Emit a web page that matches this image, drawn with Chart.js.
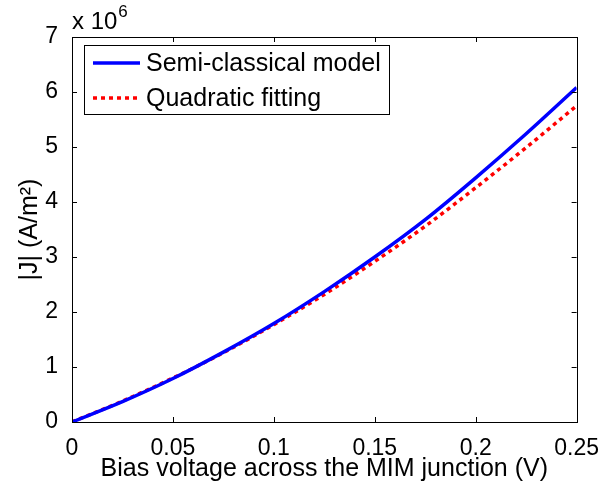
<!DOCTYPE html>
<html>
<head>
<meta charset="utf-8">
<script src="https://cdn.jsdelivr.net/npm/chart.js@4"></script>
<style>
  html, body { margin: 0; padding: 0; background: #fff; }
  #wrap { width: 604px; height: 487px; }
</style>
</head>
<body>
<div id="wrap"><canvas id="jvChart" width="604" height="487"></canvas></div>
<script>
// Bias voltage (V) and current density |J| (A/m^2)
const biasV = [0, 0.025, 0.05, 0.075, 0.1, 0.125, 0.15, 0.175, 0.2, 0.225, 0.25];
const jSemiClassical = [0, 0.37e6, 0.79e6, 1.27e6, 1.79e6, 2.37e6, 3.00e6, 3.68e6, 4.44e6, 5.24e6, 6.08e6];
const jQuadraticFit = [0, 0.38e6, 0.80e6, 1.26e6, 1.77e6, 2.32e6, 2.92e6, 3.56e6, 4.26e6, 4.99e6, 5.75e6];
const xTicks = [0, 0.05, 0.1, 0.15, 0.2, 0.25];
const yTicks = [0, 1e6, 2e6, 3e6, 4e6, 5e6, 6e6, 7e6];
const seriesNames = ['Semi-classical model', 'Quadratic fitting'];

const FONT = '"Liberation Sans", Arial, Helvetica, sans-serif';

function toPoints(ys) {
    return biasV.map((v, i) => ({ x: v, y: ys[i] }));
}

// matlab-style box with inward ticks on all four sides
const boxPlugin = {
    id: 'boxTicks',
    afterDatasetsDraw(chart) {
        const { ctx, chartArea: a, scales } = chart;
        ctx.save();
        ctx.strokeStyle = '#000';
        ctx.lineWidth = 1;
        ctx.beginPath();
        xTicks.forEach(t => {
            const px = Math.round(scales.x.getPixelForValue(t)) + 0.5;
            ctx.moveTo(px, a.bottom); ctx.lineTo(px, a.bottom - 5);
            ctx.moveTo(px, a.top); ctx.lineTo(px, a.top + 5);
        });
        yTicks.forEach(t => {
            const py = Math.round(scales.y.getPixelForValue(t)) + 0.5;
            ctx.moveTo(a.left, py); ctx.lineTo(a.left + 5, py);
            ctx.moveTo(a.right, py); ctx.lineTo(a.right - 5, py);
        });
        ctx.stroke();
        ctx.strokeRect(Math.round(a.left) + 0.5, Math.round(a.top) + 0.5,
            Math.round(a.right - a.left), Math.round(a.bottom - a.top));

        // exponent label above the y axis
        ctx.fillStyle = '#000';
        ctx.textBaseline = 'alphabetic';
        ctx.textAlign = 'left';
        ctx.font = '24px ' + FONT;
        ctx.fillText('x 10', a.left, a.top - 8);
        const w = ctx.measureText('x 10').width;
        ctx.font = '17px ' + FONT;
        ctx.fillText('6', a.left + w + 1, a.top - 20);
        ctx.restore();
    }
};

// legend box in the upper left corner of the plot
const legendPlugin = {
    id: 'boxLegend',
    afterDraw(chart) {
        const { ctx, chartArea: a } = chart;
        const bx = a.left + 12, by = a.top + 8, bw = 305, bh = 69;
        ctx.save();
        ctx.fillStyle = '#fff';
        ctx.fillRect(bx, by, bw, bh);
        ctx.strokeStyle = '#000';
        ctx.lineWidth = 1;
        ctx.strokeRect(bx + 0.5, by + 0.5, bw, bh);
        chart.data.datasets.forEach((ds, i) => {
            const y = by + 18 + i * 35;
            ctx.beginPath();
            ctx.strokeStyle = ds.borderColor;
            ctx.lineWidth = ds.borderWidth;
            ctx.setLineDash(ds.borderDash || []);
            ctx.moveTo(bx + 9, y);
            ctx.lineTo(bx + 56, y);
            ctx.stroke();
            ctx.setLineDash([]);
            ctx.fillStyle = '#000';
            ctx.font = '25px ' + FONT;
            ctx.textBaseline = 'middle';
            ctx.fillText(ds.label, bx + 62, y + 1);
        });
        ctx.restore();
    }
};

new Chart(document.getElementById('jvChart'), {
    type: 'line',
    data: {
        datasets: [{
            label: seriesNames[0],
            data: toPoints(jSemiClassical),
            borderColor: '#0000ff',
            borderWidth: 3.5,
            pointRadius: 0,
            tension: 0.4,
            cubicInterpolationMode: 'monotone'
        }, {
            label: seriesNames[1],
            data: toPoints(jQuadraticFit),
            borderColor: '#ff0000',
            borderWidth: 3.5,
            borderDash: [4, 4],
            pointRadius: 0,
            tension: 0.4,
            cubicInterpolationMode: 'monotone'
        }]
    },
    options: {
        responsive: false,
        animation: false,
        layout: { padding: { left: 0, top: 37, right: 27, bottom: 0 } },
        plugins: {
            legend: { display: false },
            tooltip: { enabled: false }
        },
        scales: {
            x: {
                type: 'linear',
                min: 0,
                max: 0.25,
                afterBuildTicks: s => { s.ticks = xTicks.map(v => ({ value: v })); },
                afterFit: s => { s.height = 65; },
                grid: { display: false },
                border: { display: false },
                ticks: {
                    color: '#000',
                    font: { family: FONT, size: 23 },
                    padding: 5,
                    maxRotation: 0,
                    callback: v => String(+v.toFixed(2))
                },
                title: {
                    display: true,
                    text: 'Bias voltage across the MIM junction (V)',
                    color: '#000',
                    font: { family: FONT, size: 25 },
                    padding: { top: 0, bottom: 3 }
                }
            },
            y: {
                min: 0,
                max: 7e6,
                afterBuildTicks: s => { s.ticks = yTicks.map(v => ({ value: v })); },
                afterFit: s => { s.width = 72; },
                grid: { display: false },
                border: { display: false },
                ticks: {
                    color: '#000',
                    font: { family: FONT, size: 23 },
                    padding: 6,
                    callback: v => String(Math.round(v / 1e6))
                },
                title: {
                    display: true,
                    text: '|J| (A/m²)',
                    color: '#000',
                    font: { family: FONT, size: 25 },
                    padding: { top: 15, bottom: 0 }
                }
            }
        }
    },
    plugins: [boxPlugin, legendPlugin]
});
</script>
</body>
</html>
